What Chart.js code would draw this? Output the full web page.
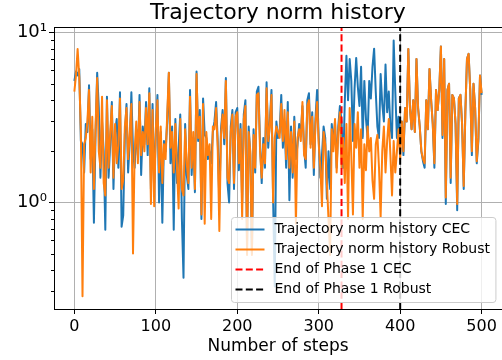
<!DOCTYPE html>
<html>
<head>
<meta charset="utf-8">
<script src="https://cdn.jsdelivr.net/npm/chart.js@4"></script>
<style>
html, body { margin: 0; padding: 0; background: #fff; }
#wrap { width: 502px; height: 360px; }
</style>
</head>
<body>
<div id="wrap"><canvas id="chart" width="502" height="360"></canvas></div>
<script>
// 数据：每 2 步读取一次
const steps = Array.from({ length: 251 }, (_, i) => i * 2);

const cecNorm = [
    5.2, 5.9, 5.6, 6.1, 2.3, 2.2, 1.5, 2.9, 2.6, 4.9,
    1.8, 2.7, 0.76, 2.5, 5.8, 3.6, 1.4, 3.0, 2.0, 0.69,
    4.2, 1.4, 2.2, 3.9, 1.2, 2.6, 3.1, 1.6, 4.45, 0.72,
    0.84, 2.5, 3.8, 1.5, 2.3, 4.45, 2.0, 1.6, 2.7, 1.9,
    4.3, 1.45, 2.8, 2.2, 3.9, 1.9, 4.7, 1.2, 3.8, 1.3,
    2.5, 4.3, 1.0, 2.6, 0.76, 2.3, 2.0, 3.0, 5.8, 1.7,
    2.8, 0.69, 3.1, 1.3, 2.1, 3.3, 0.8, 0.36, 2.9, 1.45,
    1.2, 4.6, 1.45, 2.4, 1.15, 5.9, 2.3, 3.5, 0.8, 4.1,
    2.5, 2.4, 1.8, 2.0, 1.7, 2.6, 3.0, 3.9, 2.3, 1.0,
    2.7, 3.5, 2.2, 5.4, 1.3, 1.0, 2.8, 3.5, 1.2, 3.4,
    3.6, 1.55, 2.9, 1.0, 3.3, 4.0, 0.55, 2.8, 1.9, 0.5,
    2.7, 1.5, 4.5, 4.8, 2.2, 1.3, 2.4, 1.6, 5.1, 2.1,
    3.0, 4.6, 1.05, 0.32, 3.0, 2.4, 2.6, 4.3, 2.1, 3.0,
    1.6, 3.9, 1.03, 2.8, 1.4, 3.2, 1.8, 2.2, 2.9, 2.5,
    3.7, 2.1, 1.6, 4.0, 4.4, 2.2, 3.4, 1.45, 3.1, 4.6,
    2.4, 1.4, 1.9, 2.8, 2.4, 1.05, 2.0, 1.2, 2.9, 2.2,
    3.0, 1.6, 2.8, 3.7, 3.0, 1.6, 3.9, 7.3, 4.0, 7.0,
    5.2, 2.3, 4.7, 7.1, 4.8, 3.7, 6.3, 2.4, 5.2, 3.1,
    2.4, 5.2, 4.1, 6.3, 8.05, 4.5, 2.8, 2.4, 5.7, 3.8,
    3.0, 6.5, 3.4, 4.5, 2.8, 2.4, 9.0, 4.5, 2.4, 3.2,
    2.2, 3.0, 1.9, 3.6, 3.0, 8.0, 3.6, 2.7, 4.0, 2.6,
    7.0, 3.6, 2.8, 2.0, 1.75, 1.6, 4.0, 2.7, 6.1, 4.0,
    2.9, 1.6, 4.6, 3.5, 4.6, 8.3, 2.4, 7.0, 0.98, 4.6,
    5.0, 1.3, 4.3, 4.1, 2.9, 0.9, 4.1, 4.3, 2.9, 1.2,
    3.4, 7.0, 7.5, 4.6, 1.9, 5.0, 3.6, 1.7, 2.3, 5.6,
    4.3
];

const robustNorm = [
    4.5, 5.6, 8.0, 5.5, 2.6, 0.28, 2.2, 2.4, 3.0, 4.6,
    1.5, 3.2, 1.2, 2.8, 5.4, 2.0, 1.6, 4.2, 1.3, 1.1,
    4.0, 1.6, 2.6, 3.7, 1.4, 2.9, 1.7, 2.2, 4.1, 1.2,
    1.35, 2.8, 3.6, 1.8, 2.5, 3.8, 0.5, 2.0, 3.0, 1.7,
    3.9, 1.9, 2.6, 2.0, 3.6, 2.2, 4.4, 0.98, 3.5, 0.95,
    2.7, 4.0, 1.5, 2.8, 1.3, 2.2, 1.8, 3.3, 5.8, 2.1,
    2.6, 1.5, 2.9, 1.6, 0.92, 3.1, 1.2, 1.1, 2.7, 1.7,
    1.3, 4.2, 1.6, 2.6, 1.2, 5.7, 2.4, 3.2, 0.85, 3.8,
    0.75, 2.6, 1.9, 2.2, 0.8, 2.8, 2.7, 3.6, 2.1, 0.68,
    2.5, 3.3, 2.4, 5.2, 1.4, 1.3, 2.6, 3.3, 1.3, 3.2,
    3.4, 1.7, 2.7, 0.8, 3.1, 3.7, 0.49, 2.6, 2.0, 0.49,
    2.5, 1.6, 4.3, 4.4, 2.0, 1.4, 2.2, 1.7, 4.7, 2.3,
    2.8, 4.3, 1.0, 2.4, 2.8, 2.6, 2.4, 3.8, 2.3, 3.5,
    1.8, 3.4, 1.6, 2.6, 1.5, 3.0, 0.75, 2.4, 2.7, 2.3,
    3.9, 1.9, 1.8, 3.7, 4.0, 2.1, 3.2, 1.6, 2.9, 3.9,
    2.2, 1.6, 0.95, 2.6, 2.2, 1.3, 0.8, 0.49, 2.7, 2.0,
    3.1, 1.5, 2.6, 3.4, 1.6, 2.4, 1.3, 2.9, 0.8, 3.6,
    1.9, 0.85, 2.9, 2.1, 3.4, 1.6, 2.7, 0.8, 2.2, 1.55,
    2.8, 2.0, 2.4, 1.35, 1.05, 2.2, 2.5, 1.6, 0.82, 2.0,
    2.8, 1.5, 2.3, 3.1, 1.9, 1.1, 2.3, 1.5, 2.0, 2.7,
    1.8, 3.0, 2.0, 3.6, 3.0, 8.0, 3.6, 2.7, 4.0, 2.6,
    7.0, 3.6, 2.8, 2.0, 1.8, 1.7, 4.0, 2.7, 6.1, 4.0,
    2.9, 1.7, 4.6, 3.5, 4.6, 8.3, 2.5, 7.0, 1.07, 4.6,
    5.0, 1.4, 4.3, 4.1, 2.9, 0.98, 4.1, 4.3, 2.9, 1.25,
    3.4, 7.0, 7.5, 4.6, 2.0, 5.0, 3.6, 1.75, 2.4, 5.6,
    4.4
];

const phaseEnds = [328, 400];   // CEC, Robust
const seriesLabels = [
    'Trajectory norm history CEC',
    'Trajectory norm history Robust',
    'End of Phase 1 CEC',
    'End of Phase 1 Robust'
];
const xTicks = [0, 100, 200, 300, 400, 500];
const yTicks = [1, 10];
const yTickLabels = ['10⁰', '10¹'];
const yMinorTicks = [0.3, 0.4, 0.5, 0.6, 0.7, 0.8, 0.9, 2, 3, 4, 5, 6, 7, 8, 9];
const xRange = [-25, 525];
const yRange = [0.2357, 10.74];

Chart.defaults.font.family = "'DejaVu Sans', sans-serif";
Chart.defaults.color = '#000';

const toPoints = (vals) => steps.map((s, i) => ({ x: s, y: vals[i] }));
const vline = (x) => [{ x, y: yRange[0] }, { x, y: yRange[1] }];

// 上边框、次刻度和图例
const frameLegend = {
    id: 'frameLegend',
    afterDraw(chart) {
        const { ctx, chartArea: a } = chart;
        ctx.save();
        ctx.strokeStyle = '#000';
        ctx.lineWidth = 1;
        ctx.beginPath();
        ctx.moveTo(a.left, Math.round(a.top) + 0.5);
        ctx.lineTo(a.right, Math.round(a.top) + 0.5);
        const ys = chart.scales.y;
        yMinorTicks.forEach(v => {
            const py = Math.round(ys.getPixelForValue(v)) + 0.5;
            ctx.moveTo(a.left - 3, py);
            ctx.lineTo(a.left, py);
        });
        ctx.stroke();

        ctx.font = "14px 'DejaVu Sans'";
        const items = chart.data.datasets;
        const textW = Math.max(...items.map(d => ctx.measureText(d.label).width));
        const rowH = 20;
        const w = 4 + 29 + 10 + textW + 6;
        const h = 12 + rowH * (items.length - 1) + 13;
        const x0 = Math.round(a.right - 7 - w) + 0.5;
        const y0 = Math.round(a.bottom - 7 - h) + 0.5;
        ctx.beginPath();
        ctx.roundRect(x0, y0, w, h, 3);
        ctx.fillStyle = 'rgba(255,255,255,0.8)';
        ctx.fill();
        ctx.strokeStyle = '#cccccc';
        ctx.stroke();
        items.forEach((d, i) => {
            const cy = y0 + 12 + i * rowH;
            ctx.strokeStyle = d.borderColor;
            ctx.lineWidth = 2;
            ctx.setLineDash(d.borderDash || []);
            ctx.beginPath();
            ctx.moveTo(x0 + 4, cy);
            ctx.lineTo(x0 + 33, cy);
            ctx.stroke();
            ctx.setLineDash([]);
            ctx.fillStyle = '#000';
            ctx.textBaseline = 'middle';
            ctx.fillText(d.label, x0 + 43, cy);
        });
        ctx.restore();
    }
};

new Chart(document.getElementById('chart'), {
    type: 'line',
    data: {
        datasets: [
            { label: seriesLabels[0], data: toPoints(cecNorm), borderColor: '#1f77b4', order: 3 },
            { label: seriesLabels[1], data: toPoints(robustNorm), borderColor: '#ff7f0e', order: 2 },
            { label: seriesLabels[2], data: vline(phaseEnds[0]), borderColor: '#ff0000', borderDash: [7, 3.3], order: 1 },
            { label: seriesLabels[3], data: vline(phaseEnds[1]), borderColor: '#000000', borderDash: [7, 3.3], order: 0 }
        ]
    },
    options: {
        responsive: false,
        animation: false,
        devicePixelRatio: 1,
        events: [],
        layout: { padding: 0 },
        elements: {
            point: { radius: 0 },
            line: { borderWidth: 2, tension: 0, borderJoinStyle: 'round', fill: false }
        },
        scales: {
            x: {
                type: 'linear',
                min: xRange[0],
                max: xRange[1],
                afterBuildTicks: (s) => { s.ticks = xTicks.map(v => ({ value: v })); },
                afterFit: (s) => { s.height = 51; },
                ticks: { font: { size: 16 }, padding: 3, maxRotation: 0 },
                grid: { color: '#b0b0b0', lineWidth: 1, tickColor: '#000', tickLength: 5 },
                border: { color: '#000', width: 1 },
                title: { display: true, text: 'Number of steps', font: { size: 17 }, padding: { top: 0, bottom: 3 } }
            },
            y: {
                type: 'logarithmic',
                min: yRange[0],
                max: yRange[1],
                afterBuildTicks: (s) => { s.ticks = yTicks.map(v => ({ value: v })); },
                afterFit: (s) => { s.width = 54; },
                ticks: {
                    font: { size: 18 },
                    padding: 2,
                    callback: (v) => yTickLabels[yTicks.indexOf(v)]
                },
                grid: { color: '#b0b0b0', lineWidth: 1, tickColor: '#000', tickLength: 5 },
                border: { color: '#000', width: 1 }
            }
        },
        plugins: {
            legend: { display: false },
            tooltip: { enabled: false },
            title: {
                display: true,
                text: 'Trajectory norm history',
                fullSize: false,
                font: { size: 22, weight: 'normal' },
                padding: { top: 0, bottom: 1 }
            }
        }
    },
    plugins: [frameLegend]
});
</script>
</body>
</html>
